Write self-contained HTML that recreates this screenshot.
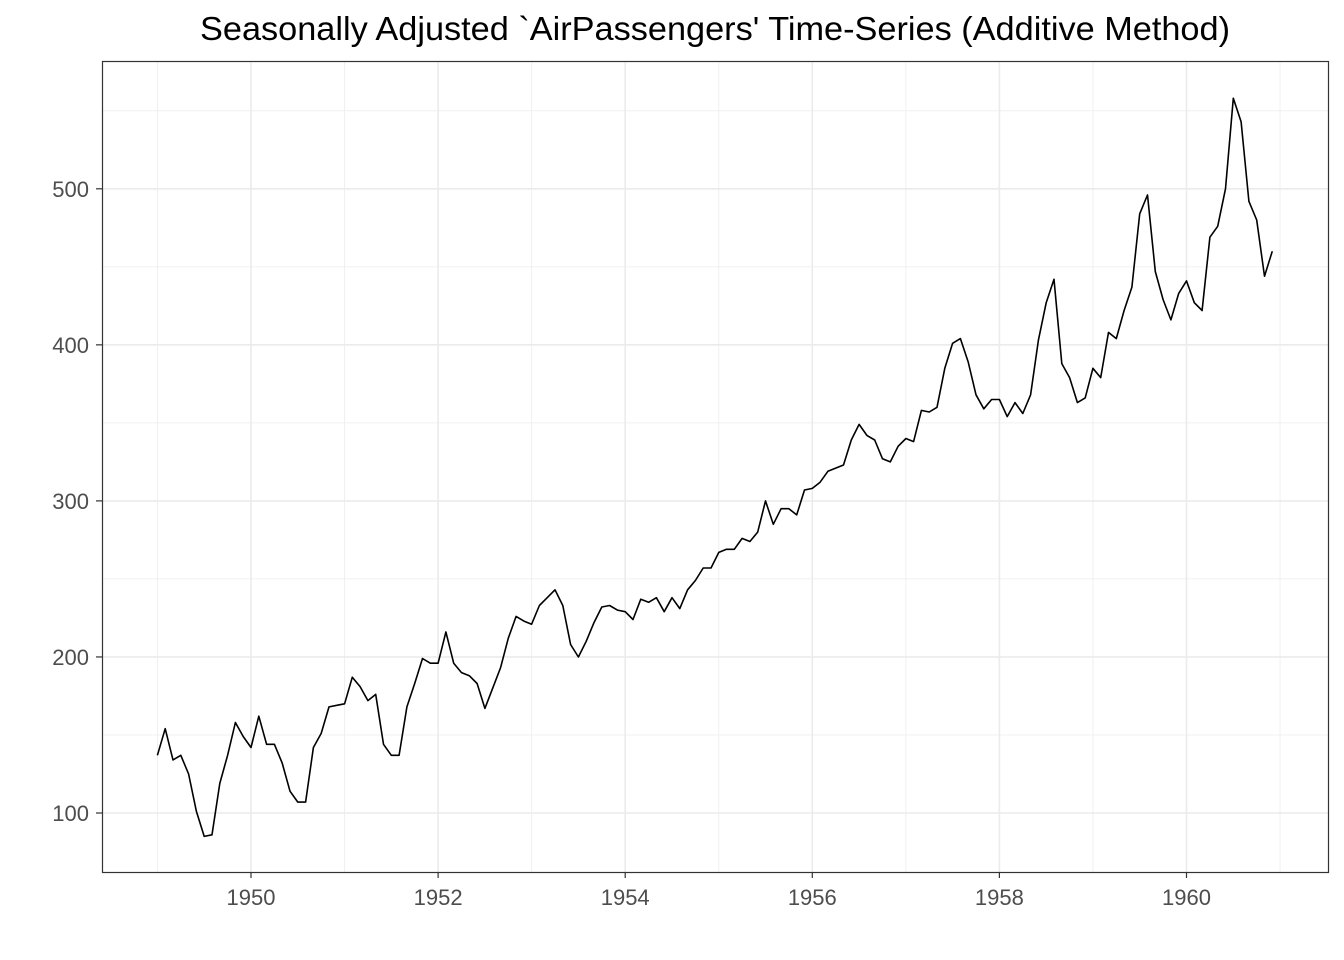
<!DOCTYPE html>
<html><head><meta charset="utf-8"><style>
body{margin:0;background:#fff;}
svg{display:block;font-family:"Liberation Sans",sans-serif;}
</style></head><body>
<svg id="chart" width="1344" height="960">
<rect width="1344" height="960" fill="#fff"/>
<text x="715" y="40" text-anchor="middle" font-size="33" textLength="1030" lengthAdjust="spacingAndGlyphs" fill="#000">Seasonally Adjusted `AirPassengers' Time-Series (Additive Method)</text>
<g id="grid"></g>
<g id="axes"></g>
<path id="series" fill="none" stroke="#000" stroke-width="1.6" stroke-linejoin="round"/>
<rect x="102.5" y="61.5" width="1226" height="811" fill="none" stroke="#333" stroke-width="1.2"/>
</svg>
<script>
const startYear = 1949;
const values = [137,154,134,137,125,101,85,86,119,137,158,149,
142,162,144,144,132,114,107,107,142,151,168,169,
170,187,181,172,176,144,137,137,168,183,199,196,
196,216,196,190,188,183,167,180,193,212,226,223,
221,233,238,243,233,208,200,210,222,232,233,230,
229,224,237,235,238,229,238,231,243,249,257,257,
267,269,269,276,274,280,300,285,295,295,291,307,
308,312,319,321,323,339,349,342,339,327,325,335,
340,338,358,357,360,385,401,404,389,368,359,365,
365,354,363,356,368,403,427,442,388,379,363,366,
385,379,408,404,422,437,484,496,447,429,416,433,
441,427,422,469,476,500,558,543,492,480,444,460];
const xTicks = [1950,1952,1954,1956,1958,1960];
const yTicks = [100,200,300,400,500];
const xMinor = [1949,1951,1953,1955,1957,1959,1961];
const yMinor = [150,250,350,450,550];
const NS="http://www.w3.org/2000/svg";
const X = t => 251 + (t-1950)*93.55;
const Y = v => 813 - (v-100)*1.5605;
const L=103,R=1328,T=62,B=872;
const grid=document.getElementById('grid'), axes=document.getElementById('axes');
function line(p,x1,y1,x2,y2,c,w){const l=document.createElementNS(NS,'line');l.setAttribute('x1',x1);l.setAttribute('y1',y1);l.setAttribute('x2',x2);l.setAttribute('y2',y2);l.setAttribute('stroke',c);l.setAttribute('stroke-width',w);p.appendChild(l);return l;}
xMinor.forEach(t=>{const l=line(grid,X(t),T,X(t),B,'#f0f0f0',1);

});
yMinor.forEach(v=>{const l=line(grid,L,Y(v),R,Y(v),'#f0f0f0',1);

});
xTicks.forEach(t=>{const l=line(grid,X(t),T,X(t),B,'#ebebeb',1.6);


const k=line(axes,X(t),B,X(t),B+6,'#333',1.2);


const tx=document.createElementNS(NS,'text');tx.setAttribute('x',X(t));tx.setAttribute('y',905);tx.setAttribute('text-anchor','middle');tx.setAttribute('font-size','22');tx.setAttribute('fill','#4d4d4d');tx.textContent=t;


axes.appendChild(tx);});
yTicks.forEach(v=>{const l=line(grid,L,Y(v),R,Y(v),'#ebebeb',1.6);


const k=line(axes,96,Y(v),L,Y(v),'#333',1.2);


const tx=document.createElementNS(NS,'text');tx.setAttribute('x',89);tx.setAttribute('y',Y(v)+8);tx.setAttribute('text-anchor','end');tx.setAttribute('font-size','22');tx.setAttribute('fill','#4d4d4d');tx.textContent=v;


axes.appendChild(tx);});
document.getElementById('series').setAttribute('d',values.map((v,i)=>(i?'L':'M')+X(startYear+i/12).toFixed(1)+','+Y(v).toFixed(1)).join(''));
</script>
</body></html>
